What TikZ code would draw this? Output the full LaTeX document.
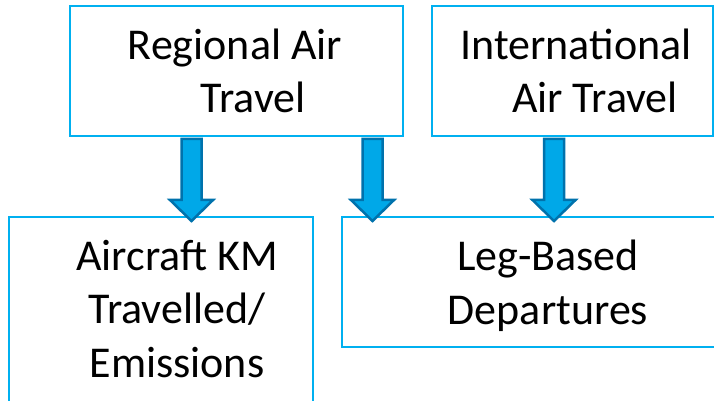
\documentclass[tikz,border=0pt]{standalone}
\usepackage{fontspec}
\setmainfont{Carlito}
\usetikzlibrary{positioning,calc}

\definecolor{boxblue}{RGB}{0,176,240}
\definecolor{arrowfill}{RGB}{0,168,232}
\definecolor{arrowedge}{RGB}{0,114,172}

\tikzset{
  box/.style={draw=boxblue, line width=2pt, rectangle, inner sep=0pt, outer sep=0pt},
  boxtext/.style={align=center, font=\fontsize{44}{53.5}\selectfont, inner sep=0pt},
  blockarrow/.style={draw=arrowedge, fill=arrowfill, line width=2.5pt, line join=miter},
}

% #1 start on the upper box, #2 point on the lower box
\newcommand{\flowarrow}[2]{%
  \draw[blockarrow] ($(#1)+(-10pt,-3pt)$) -- ($(#2)+(-10pt,17pt)$)
    -- ($(#2)+(-21.5pt,17pt)$) -- ($(#2)+(0pt,-4pt)$) -- ($(#2)+(21.5pt,17pt)$)
    -- ($(#2)+(10pt,17pt)$) -- ($(#1)+(10pt,-3pt)$) -- cycle;}

\begin{document}
\begin{tikzpicture}[x=1pt, y=1pt]
  \clip (0,0) rectangle (714,401);

  \node[box, minimum width=333pt, minimum height=130pt] (regional) at (236.5,330) {};
  \node[box, minimum width=281pt, minimum height=130pt, right=29pt of regional] (intl) {};

  \node[box, minimum width=304pt, minimum height=203pt] (aircraft) at (161,82.5) {};
  \node[box, minimum width=388pt, minimum height=130pt] (legbased) at (536,119) {};

  \node[boxtext] (regionaltext) at (235,330) {Regional Air\\\hspace*{36pt}Travel};
  \node[boxtext] (intltext) at (576,330) {International\\\hspace*{38pt}Air Travel};
  \node[boxtext] (aircrafttext) at (177,92) {Aircraft KM\\Travelled/\\Emissions};
  \node[boxtext] (legbasedtext) at (548,115) {Leg-Based\\Departures};

  \coordinate (a1) at (191.5,0);
  \coordinate (a2) at (372.5,0);
  \coordinate (a3) at (554,0);

  \flowarrow{regional.south -| a1}{aircraft.north -| a1}
  \flowarrow{regional.south -| a2}{legbased.north -| a2}
  \flowarrow{intl.south -| a3}{legbased.north -| a3}
\end{tikzpicture}
\end{document}
